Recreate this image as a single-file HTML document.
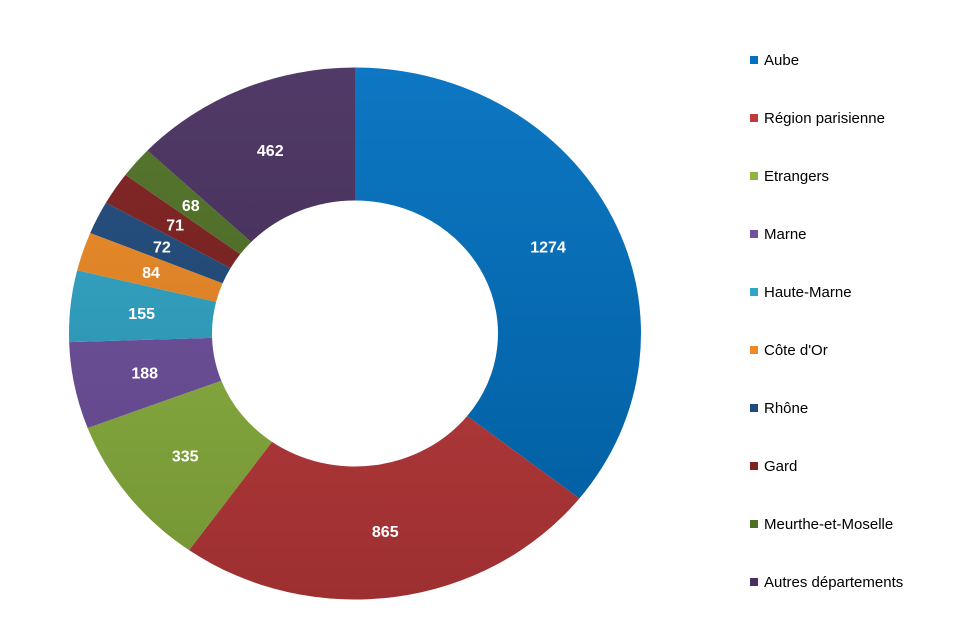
<!DOCTYPE html>
<html><head><meta charset="utf-8">
<style>
body{margin:0;background:#fff;width:960px;height:640px;overflow:hidden;font-family:"Liberation Sans",sans-serif;}
#legend{position:absolute;left:750px;top:52px;}
.li{position:absolute;left:0;white-space:nowrap;font-size:15px;color:#000;}
.sw{display:inline-block;width:8px;height:8px;margin-right:6px;vertical-align:1px;}
</style></head>
<body>
<svg id="chart" width="960" height="640" style="position:absolute;left:0;top:0"></svg>
<div id="legend"></div>
<script>
const categories=["Aube","Région parisienne","Etrangers","Marne","Haute-Marne","Côte d'Or","Rhône","Gard","Meurthe-et-Moselle","Autres départements"];
const values=[1274,865,335,188,155,84,72,71,68,462];
const colors=["#0070c0","#c0393b","#8db53f","#7050a0","#2fa6c8","#f08a24","#1f4a7c","#7f1f1f","#4f7124","#48305f"];
const svg=document.getElementById('chart');
const NS="http://www.w3.org/2000/svg";
const cx=355,cy=333.5,rx=286,ry=266,irx=143,iry=133;
const total=values.reduce((a,b)=>a+b,0);
const defs=document.createElementNS(NS,'defs');svg.appendChild(defs);
function shade(hex,f){let n=parseInt(hex.slice(1),16);let r=n>>16,g=(n>>8)&255,b=n&255;
 const m=c=>Math.max(0,Math.min(255,Math.round(f>1?c+(255-c)*(f-1):c*f)));
 return `rgb(${m(r)},${m(g)},${m(b)})`;}
function pt(a,sx,sy){return [cx+sx*Math.sin(a),cy-sy*Math.cos(a)];}
let acc=0;
values.forEach((v,i)=>{
 const a0=acc/total*2*Math.PI;acc+=v;const a1=acc/total*2*Math.PI;
 const g=document.createElementNS(NS,'linearGradient');
 g.setAttribute('id','g'+i);g.setAttribute('gradientUnits','userSpaceOnUse');
 g.setAttribute('x1',0);g.setAttribute('y1',cy-ry);g.setAttribute('x2',0);g.setAttribute('y2',cy+ry);
 g.innerHTML=`<stop offset="0" stop-color="${shade(colors[i],1.05)}"/><stop offset="1" stop-color="${shade(colors[i],0.82)}"/>`;
 defs.appendChild(g);
 const large=(a1-a0)>Math.PI?1:0;
 const p0=pt(a0,rx,ry),p1=pt(a1,rx,ry),q1=pt(a1,irx,iry),q0=pt(a0,irx,iry);
 const path=document.createElementNS(NS,'path');
 path.setAttribute('d',`M${p0[0]},${p0[1]} A${rx},${ry} 0 ${large} 1 ${p1[0]},${p1[1]} L${q1[0]},${q1[1]} A${irx},${iry} 0 ${large} 0 ${q0[0]},${q0[1]} Z`);
 path.setAttribute('fill',`url(#g${i})`);
 
 
 svg.appendChild(path);
 const am=(a0+a1)/2;const lp=pt(am,(rx+irx)/2,(ry+iry)/2);
 const t=document.createElementNS(NS,'text');
 t.setAttribute('x',lp[0]);t.setAttribute('y',lp[1]+6);t.setAttribute('text-anchor','middle');
 t.setAttribute('fill','#fff');t.setAttribute('font-weight','bold');t.setAttribute('font-size','16');
 t.setAttribute('font-family','Liberation Sans, sans-serif');
 
 
 t.textContent=v;svg.appendChild(t);
});
const lg=document.getElementById('legend');
categories.forEach((c,i)=>{
 const d=document.createElement('div');d.className='li';d.style.top=(i*58)+'px';
 
 
 d.innerHTML=`<span class="sw" style="background:${colors[i]}"></span>${c}`;
 lg.appendChild(d);
});
</script>
</body></html>
